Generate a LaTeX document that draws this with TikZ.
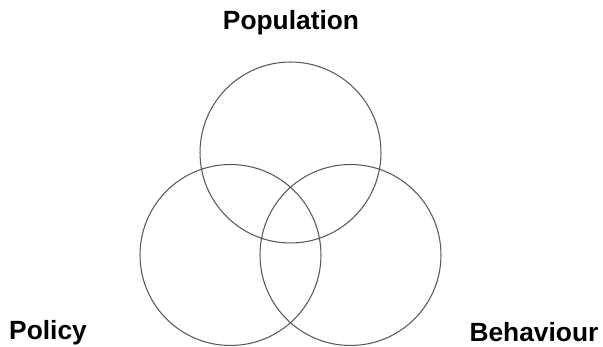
\documentclass[tikz,border=0pt]{standalone}
\usepackage{fontspec}
\setmainfont{Liberation Sans}
\begin{document}
\begin{tikzpicture}[x=0.02cm,y=-0.02cm,
  every node/.style={font=\bfseries\fontsize{15}{18}\selectfont},
  ring/.style={draw=black!65,line width=0.6pt}]
\useasboundingbox (0,0) rectangle (603,347);
\node[ring,circle,minimum size=3.62cm,inner sep=0pt] (pop) at (290.5,152.5) {};
\node[ring,circle,minimum size=3.62cm,inner sep=0pt] (pol) at (230.5,255) {};
\node[ring,circle,minimum size=3.62cm,inner sep=0pt] (beh) at (350.5,255) {};
\node (poplbl) at (291,23) {Population};
\node (pollbl) at (48,333) {Policy};
\node (behlbl) at (534,332) {Behaviour};
\end{tikzpicture}
\end{document}
